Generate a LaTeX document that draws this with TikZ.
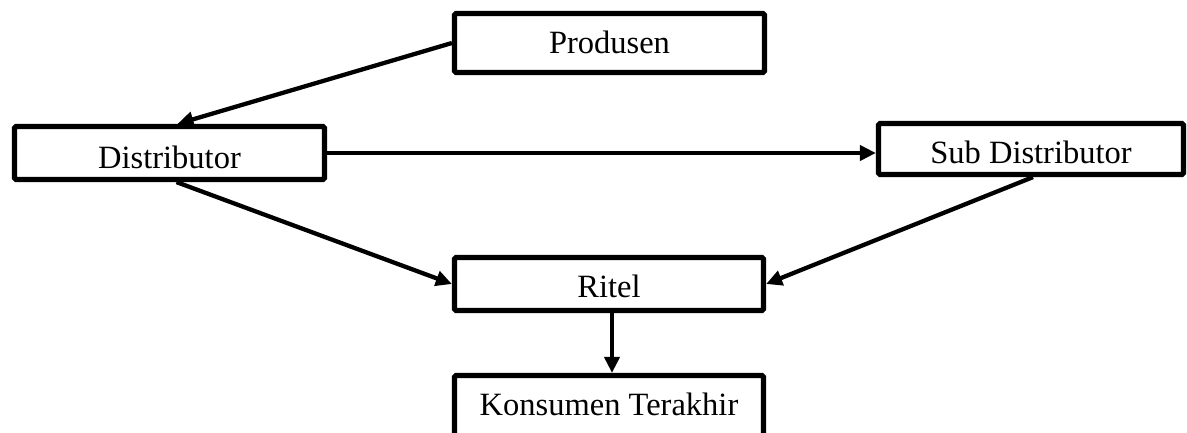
\documentclass[tikz,border=0pt]{standalone}
\usepackage{fontspec}
\setmainfont{Liberation Serif}
\usetikzlibrary{arrows.meta}
\begin{document}
\begin{tikzpicture}[x=1pt,y=-1pt,
  box/.style={draw, line width=5.2pt, rounded corners=1.5pt, inner sep=0pt,
    font=\fontsize{32.5}{37}\selectfont, text depth=0pt},
  conn/.style={line width=4.3pt, -{Triangle[length=16pt,width=15pt]}}]
\useasboundingbox (0,0) rectangle (1187,432);
\begin{scope}
\clip (0,0) rectangle (1187,432);
\node[box, minimum width=310pt, minimum height=59pt, text height=20pt] (prod) at (609.5,43) {Produsen};
\node[box, minimum width=310pt, minimum height=53pt, text height=30pt] (dist) at (169.5,153) {Distributor};
\node[box, minimum width=305pt, minimum height=51pt, text height=28pt] (sub) at (1031,149) {Sub Distributor};
\node[box, minimum width=309pt, minimum height=53pt, text height=26pt] (ritel) at (609,284) {Ritel};
\node[box, minimum width=309pt, minimum height=62pt, text height=17pt] (kons) at (609,406.5) {Konsumen Terakhir};
\end{scope}
\draw[conn] (prod.west) -- ([xshift=8pt]dist.north);
\draw[conn] (dist.east) -- (dist.east -| sub.west);
\draw[conn] ([xshift=7pt]dist.south) -- (ritel.west);
\draw[conn] ([xshift=2pt]sub.south) -- (ritel.east);
\draw[conn] ([xshift=3pt]ritel.south) -- ([xshift=3pt]kons.north);
\end{tikzpicture}
\end{document}
